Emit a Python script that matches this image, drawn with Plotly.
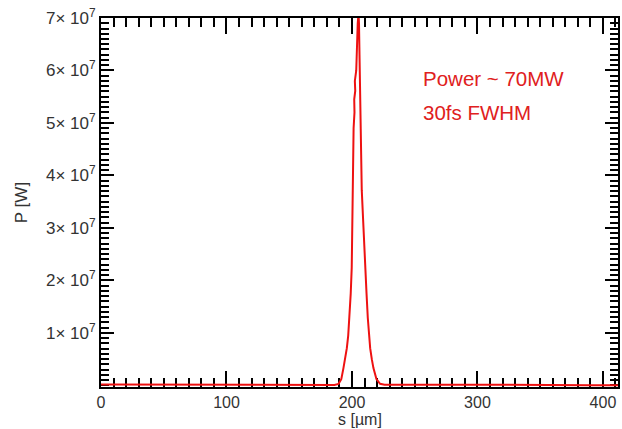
import plotly.graph_objects as go

# ---- data ----
s_um = [0, 15, 40, 70, 95, 120, 145, 165, 180, 186,
        189.3, 191.5, 193.2, 195.0, 195.9, 197.0, 198.0, 199.0, 199.8, 200.1,
        200.7, 201.2, 201.6, 201.3, 202.0, 201.8, 202.6, 202.3, 203.4, 203.8,
        204.6, 205.2, 205.6, 206.0, 206.3, 206.5, 206.8, 207.0, 207.8, 208.8,
        209.7, 210.7, 211.6, 212.6, 213.5, 214.5, 215.8, 217.1, 219.5, 222.4,
        226, 240, 260, 285, 310, 330, 360, 390, 412]
power_1e7 = [0.02, 0.02, 0.015, 0.015, 0.01, 0.01, 0.01, 0.015, 0.02, 0.01,
             0.03, 0.12, 0.33, 0.55, 0.71, 0.95, 1.29, 1.75, 2.24, 2.81,
             3.5, 4.1, 4.71, 4.9, 5.2, 5.45, 5.61, 5.8, 6.0, 6.5,
             6.9, 7.08, 6.9, 6.3, 5.9, 5.4, 4.9, 4.71, 3.72, 3.2,
             2.81, 2.24, 1.75, 1.29, 0.95, 0.71, 0.5, 0.33, 0.12, 0.03,
             0.015, 0.02, 0.015, 0.015, 0.01, 0.005, 0.005, 0.005, 0.005]

y_tick_vals = [1e7, 2e7, 3e7, 4e7, 5e7, 6e7, 7e7]
y_tick_text = ["1× 10<sup>7</sup>", "2× 10<sup>7</sup>", "3× 10<sup>7</sup>",
               "4× 10<sup>7</sup>", "5× 10<sup>7</sup>", "6× 10<sup>7</sup>",
               "7× 10<sup>7</sup>"]
x_tick_vals = [0, 100, 200, 300, 400]

x_title = "s [µm]"
y_title = "P [W]"
notes = ["Power ~ 70MW", "30fs FWHM"]

power_w = [v * 1e7 for v in power_1e7]

fig = go.Figure()
fig.add_trace(go.Scatter(x=s_um, y=power_w, mode="lines",
                         line=dict(color="#ee1111", width=2),
                         showlegend=False, hoverinfo="skip"))

FONT = "Liberation Sans, Arial, sans-serif"
axis_font = dict(family=FONT, size=17, color="#333333")
x_font = dict(family=FONT, size=16, color="#333333")

fig.update_xaxes(
    range=[0, 412], tickvals=x_tick_vals, ticktext=[str(v) for v in x_tick_vals],
    ticks="inside", ticklen=16, tickwidth=2, tickcolor="black",
    showline=True, linecolor="black", linewidth=2, mirror="allticks",
    showgrid=False, zeroline=False, layer="below traces",
    minor=dict(ticks="inside", dtick=10, tick0=0, ticklen=9, tickwidth=2,
               tickcolor="black", showgrid=False),
    tickfont=x_font,
)
fig.update_yaxes(
    range=[-0.03e7, 7.0e7], tickvals=y_tick_vals, ticktext=y_tick_text,
    ticks="inside", ticklen=13, tickwidth=2, tickcolor="black",
    showline=True, linecolor="black", linewidth=2, mirror="allticks",
    showgrid=False, zeroline=False, layer="below traces",
    minor=dict(ticks="inside", dtick=1e6, tick0=0, ticklen=8, tickwidth=2,
               tickcolor="black", showgrid=False),
    tickfont=axis_font,
    title=dict(text=y_title, font=axis_font, standoff=14),
)

# x-axis title placed as an annotation just below the tick labels
fig.add_annotation(x=0.5, y=-0.0894, xref="paper", yref="paper", text=x_title,
                   showarrow=False, xanchor="center", yanchor="middle",
                   font=x_font)

fig.add_annotation(x=0.618, y=0.835, xref="paper", yref="paper", text=notes[0],
                   showarrow=False, xanchor="left", yanchor="middle",
                   font=dict(family=FONT, size=20.5, color="#e02020"))
fig.add_annotation(x=0.618, y=0.745, xref="paper", yref="paper", text=notes[1],
                   showarrow=False, xanchor="left", yanchor="middle",
                   font=dict(family=FONT, size=20.5, color="#e02020"))

fig.update_layout(
    width=622, height=429,
    margin=dict(l=101, r=2, t=18, b=42),
    plot_bgcolor="white", paper_bgcolor="white",
)

fig.write_html("out.html")
